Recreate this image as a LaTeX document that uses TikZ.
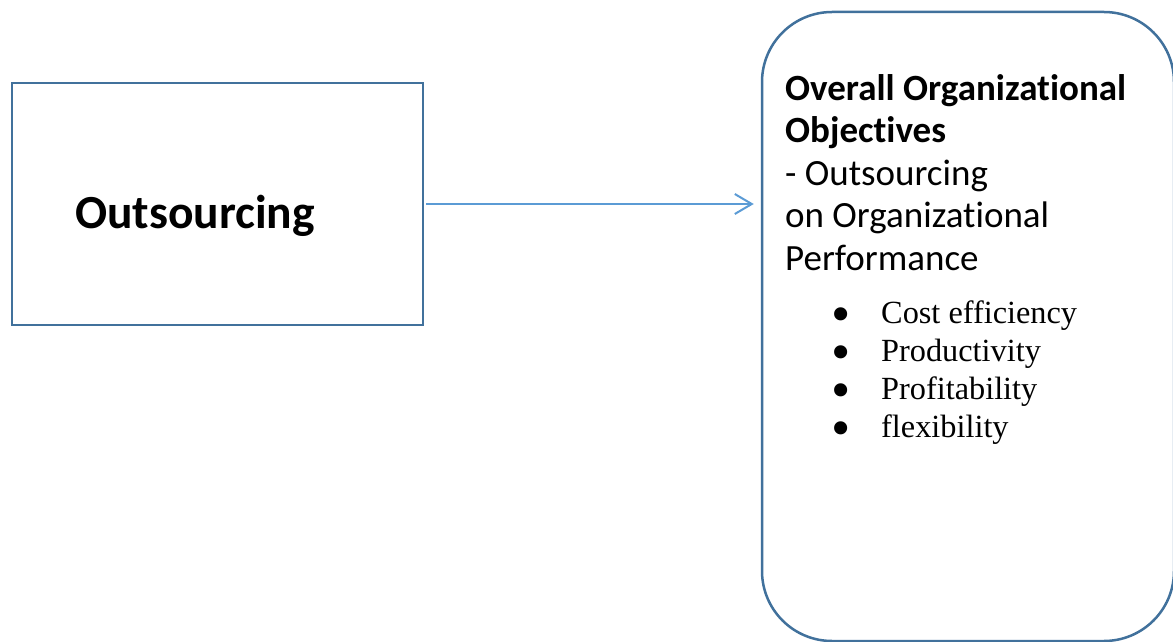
\documentclass[tikz,border=0pt]{standalone}
\usepackage{fontspec}
\setmainfont{Carlito}[Ligatures=NoCommon]
\newfontfamily\serifitems{Liberation Serif}
\usetikzlibrary{arrows.meta}
\definecolor{boxline}{HTML}{41719C}
\definecolor{arrowline}{HTML}{5B9BD5}
\newcommand{\itembullet}{\makebox[50pt][l]{\smash{\raisebox{-9pt}{\scalebox{1.7}{\textbullet}}}}}
\begin{document}
\begin{tikzpicture}[
  x=1pt, y=-1pt,
  box/.style={draw=boxline, line width=2.5pt, inner sep=0pt},
  heading/.style={font=\fontsize{37}{42.5}\selectfont, align=left, inner sep=0pt, anchor=base west},
  item/.style={font=\serifitems\fontsize{32.3}{38.3}\selectfont, inner sep=0pt, anchor=base west},
  arrow/.style={-{Straight Barb[length=17pt, width=20pt]}, line width=2pt, draw=arrowline}
]
\useasboundingbox (0,0) rectangle (1173,642);
\node[box, minimum width=411pt, minimum height=242pt] (outsrc) at (217.5,204) {};
\node[font=\bfseries\fontsize{47.5}{55}\selectfont, inner sep=0pt, anchor=base] (outlabel) at (195,228) {Outsourcing};
\node[box, rounded corners=70pt, minimum width=412pt, minimum height=629pt] (objbox) at (968,326.5) {};
\node[heading] (objtext) at (785,270) {\textbf{Overall Organizational}\\\textbf{Objectives}\\- Outsourcing\\on Organizational\\Performance};

\node[item] (cost) at (831,323) {\itembullet Cost efficiency};
\node[item] (prod) at (831,361.3) {\itembullet Productivity};
\node[item] (prof) at (831,399.6) {\itembullet Profitability};
\node[item] (flex) at (831,437.9) {\itembullet flexibility};

\draw[arrow, shorten <=2pt, shorten >=7pt] (outsrc.east) -- (outsrc.east -| objbox.west);
\end{tikzpicture}
\end{document}
